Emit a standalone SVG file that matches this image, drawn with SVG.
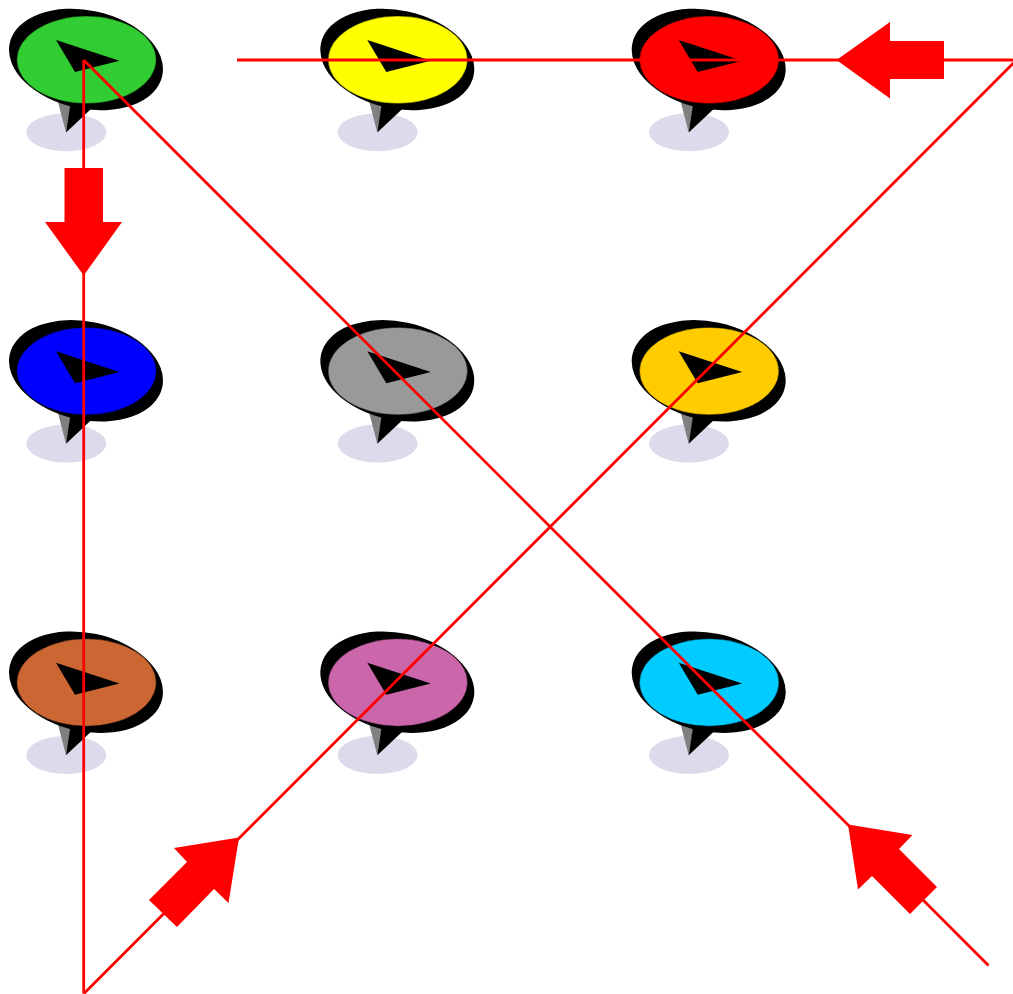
<svg xmlns="http://www.w3.org/2000/svg" xmlns:xlink="http://www.w3.org/1999/xlink" width="1013" height="994" viewBox="0 0 1013 994">
<style>
.shadow{fill:#dddaec}
.back{fill:#000}
.tailg{fill:#808080}
.face{stroke:#000;stroke-width:.4}
.line{fill:none;stroke:#f00;stroke-width:2.8;stroke-linejoin:miter}
.arrow{fill:#f00}
</style>
<defs>
<g id="base">
<ellipse class="shadow" cx="66.300" cy="132.300" rx="40" ry="19"/>
<path class="tailg" d="M58 102L66 132.500L71 103Z"/>
<path class="back" d="M66 132.500L71 100L91 109Z"/>
<ellipse class="back" cx="86" cy="59.500" rx="78" ry="49.200" transform="rotate(12 86 59.500)"/>
</g>
<path id="pointer" class="back" d="M56 40L119.500 60.700L75 72Z"/>
</defs>
<g id="node-green"><use xlink:href="#base"/><ellipse class="face" fill="#32cd32" cx="86.500" cy="59.800" rx="69.700" ry="43.700"/><use xlink:href="#pointer"/></g>
<g id="node-yellow" transform="translate(311.300 0)"><use xlink:href="#base"/><ellipse class="face" fill="#ff0" cx="86.500" cy="59.800" rx="69.700" ry="43.700"/><use xlink:href="#pointer"/></g>
<g id="node-red" transform="translate(622.700 0)"><use xlink:href="#base"/><ellipse class="face" fill="#f00" cx="86.500" cy="59.800" rx="69.700" ry="43.700"/><use xlink:href="#pointer"/></g>
<g id="node-blue" transform="translate(0 311.300)"><use xlink:href="#base"/><ellipse class="face" fill="#00f" cx="86.500" cy="59.800" rx="69.700" ry="43.700"/><use xlink:href="#pointer"/></g>
<g id="node-grey" transform="translate(311.300 311.300)"><use xlink:href="#base"/><ellipse class="face" fill="#999" cx="86.500" cy="59.800" rx="69.700" ry="43.700"/><use xlink:href="#pointer"/></g>
<g id="node-gold" transform="translate(622.700 311.300)"><use xlink:href="#base"/><ellipse class="face" fill="#fc0" cx="86.500" cy="59.800" rx="69.700" ry="43.700"/><use xlink:href="#pointer"/></g>
<g id="node-brown" transform="translate(0 622.700)"><use xlink:href="#base"/><ellipse class="face" fill="#c63" cx="86.500" cy="59.800" rx="69.700" ry="43.700"/><use xlink:href="#pointer"/></g>
<g id="node-pink" transform="translate(311.300 622.700)"><use xlink:href="#base"/><ellipse class="face" fill="#c6a" cx="86.500" cy="59.800" rx="69.700" ry="43.700"/><use xlink:href="#pointer"/></g>
<g id="node-cyan" transform="translate(622.700 622.700)"><use xlink:href="#base"/><ellipse class="face" fill="#0cf" cx="86.500" cy="59.800" rx="69.700" ry="43.700"/><use xlink:href="#pointer"/></g>
<g id="connectors">
<path class="line" d="M237 60H1013"/>
<path class="line" d="M1013.500 63L84 993.500"/>
<path class="line" d="M83.700 60V993.500"/>
<path class="line" d="M83.700 60L988.500 965.500"/>
<path class="arrow" d="M836.500 60L890 22V41H944V79H890V98.500Z"/>
<path class="arrow" d="M83.700 275.500L45 222H64.500V168H103V222H122Z"/>
<path class="arrow" d="M239 837.500L174 848L187 862L149 900L177 927L214 889L228.500 903Z"/>
<path class="arrow" d="M848 824.500L912.500 835L899 849L937 887L910 914L872 876L858 889.500Z"/>
</g>
</svg>
